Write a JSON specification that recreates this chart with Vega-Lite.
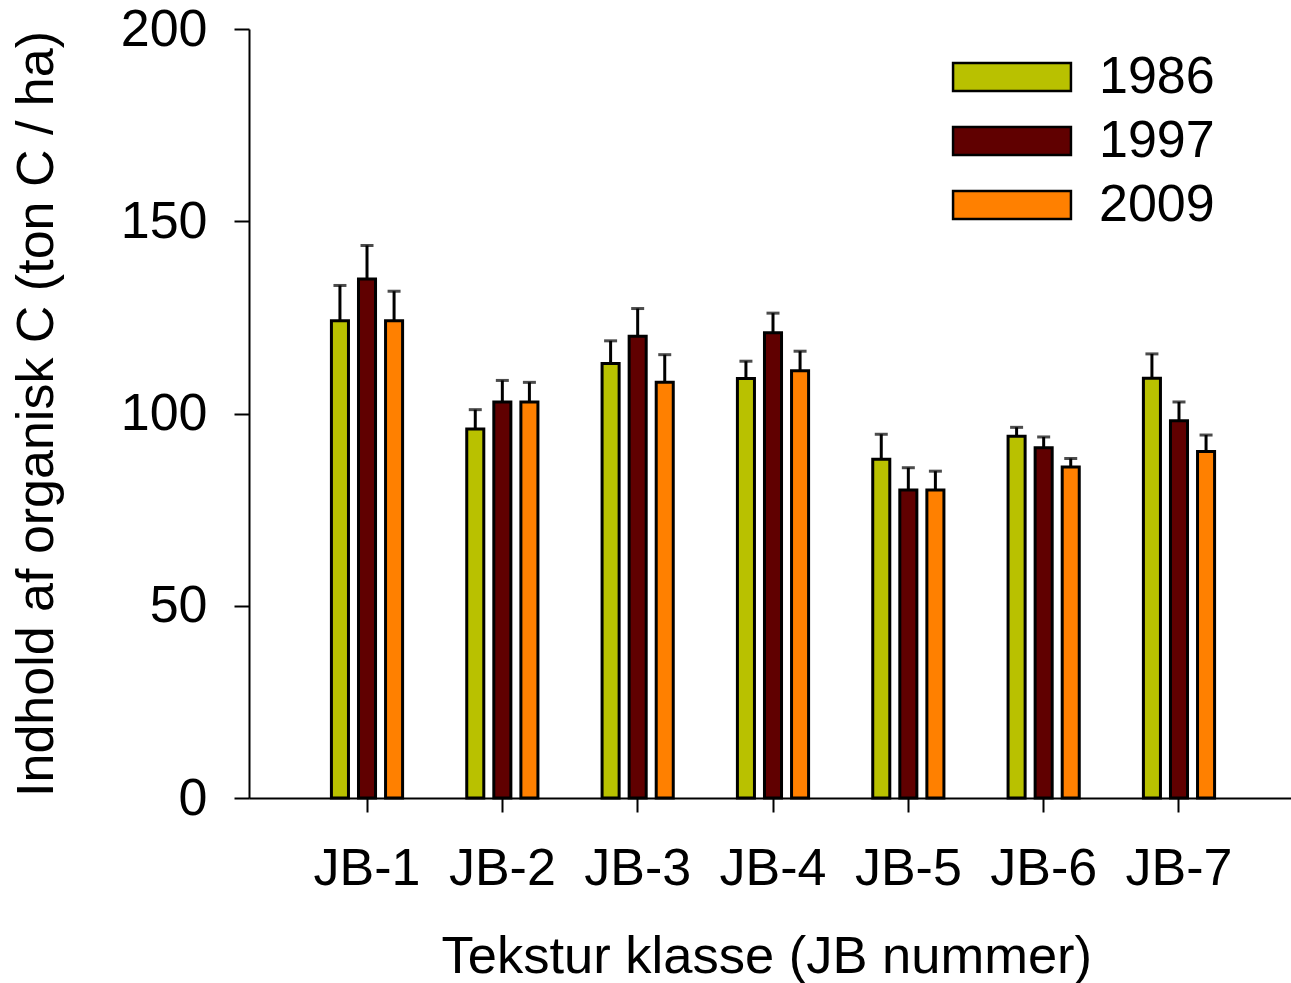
{
  "$schema": "https://vega.github.io/schema/vega-lite/v6.json",
  "width": 1048,
  "height": 769,
  "autosize": "none",
  "padding": {"left": 249, "top": 29, "right": 0, "bottom": 185},
  "background": "white",
  "config": {
    "view": {"stroke": null},
    "font": "Liberation Sans"
  },
  "data": {
    "values": [
      {"jb": "JB-1", "year": "1986", "value": 124.1, "upper": 133.3},
      {"jb": "JB-1", "year": "1997", "value": 135.0, "upper": 143.7},
      {"jb": "JB-1", "year": "2009", "value": 124.1, "upper": 131.8},
      {"jb": "JB-2", "year": "1986", "value": 96.0, "upper": 101.0},
      {"jb": "JB-2", "year": "1997", "value": 103.0, "upper": 108.6},
      {"jb": "JB-2", "year": "2009", "value": 103.0, "upper": 108.1},
      {"jb": "JB-3", "year": "1986", "value": 113.0, "upper": 118.9},
      {"jb": "JB-3", "year": "1997", "value": 120.1, "upper": 127.3},
      {"jb": "JB-3", "year": "2009", "value": 108.1, "upper": 115.3},
      {"jb": "JB-4", "year": "1986", "value": 109.1, "upper": 113.6},
      {"jb": "JB-4", "year": "1997", "value": 121.0, "upper": 126.1},
      {"jb": "JB-4", "year": "2009", "value": 111.1, "upper": 116.2},
      {"jb": "JB-5", "year": "1986", "value": 88.1, "upper": 94.6},
      {"jb": "JB-5", "year": "1997", "value": 80.1, "upper": 85.9},
      {"jb": "JB-5", "year": "2009", "value": 80.1, "upper": 85.0},
      {"jb": "JB-6", "year": "1986", "value": 94.1, "upper": 96.4},
      {"jb": "JB-6", "year": "1997", "value": 91.1, "upper": 93.9},
      {"jb": "JB-6", "year": "2009", "value": 86.1, "upper": 88.3},
      {"jb": "JB-7", "year": "1986", "value": 109.2, "upper": 115.5},
      {"jb": "JB-7", "year": "1997", "value": 98.1, "upper": 103.0},
      {"jb": "JB-7", "year": "2009", "value": 90.1, "upper": 94.4}
    ]
  },
  "encoding": {
    "x": {
      "field": "jb",
      "type": "nominal",
      "scale": {"paddingInner": 0.4, "paddingOuter": 0.572},
      "axis": {
        "title": "Tekstur klasse (JB nummer)",
        "titleAnchor": "start",
        "titleAlign": "left",
        "titleX": 192,
        "labelAngle": 0,
        "labelFontSize": 52,
        "labelColor": "black",
        "labelPadding": 31,
        "titleFontSize": 52.5,
        "titleFontWeight": "normal",
        "titleColor": "black",
        "titlePadding": 37,
        "domainColor": "black",
        "domainWidth": 2,
        "tickColor": "black",
        "tickWidth": 2,
        "tickSize": 14
      }
    },
    "xOffset": {
      "field": "year",
      "type": "nominal",
      "scale": {"paddingInner": 0.37, "paddingOuter": 0.185}
    }
  },
  "layer": [
    {
      "mark": {"type": "rule", "stroke": "black", "strokeWidth": 3},
      "encoding": {
        "y": {"field": "value", "type": "quantitative"},
        "y2": {"field": "upper"}
      }
    },
    {
      "mark": {"type": "tick", "color": "black", "size": 13, "thickness": 3, "orient": "horizontal"},
      "encoding": {
        "y": {"field": "upper", "type": "quantitative"}
      }
    },
    {
      "mark": {"type": "bar", "stroke": "black", "strokeWidth": 3},
      "encoding": {
        "y": {
          "field": "value",
          "type": "quantitative",
          "scale": {"domain": [0, 200], "nice": false},
          "axis": {
            "title": "Indhold af organisk C (ton C / ha)",
            "values": [0, 50, 100, 150, 200],
            "grid": false,
            "labelFontSize": 52,
            "labelColor": "black",
            "labelPadding": 27,
            "titleFontSize": 52,
            "titleFontWeight": "normal",
            "titleColor": "black",
            "titlePadding": 57,
            "domainColor": "black",
            "domainWidth": 2,
            "tickColor": "black",
            "tickWidth": 2,
            "tickSize": 15
          }
        },
        "fill": {
          "field": "year",
          "type": "nominal",
          "scale": {"domain": ["1986", "1997", "2009"], "range": ["#B9C100", "#600000", "#FF8000"]},
          "legend": {
            "title": null,
            "orient": "none",
            "legendX": 737,
            "legendY": 22,
            "symbolType": "M-4.21,-1H4.21V1H-4.21Z",
            "symbolSize": 784,
            "symbolStrokeColor": "black",
            "symbolStrokeWidth": 2.5,
            "symbolOpacity": 1,
            "labelFontSize": 52,
            "labelColor": "black",
            "labelOffset": 61,
            "rowPadding": 12
          }
        }
      }
    }
  ]
}
